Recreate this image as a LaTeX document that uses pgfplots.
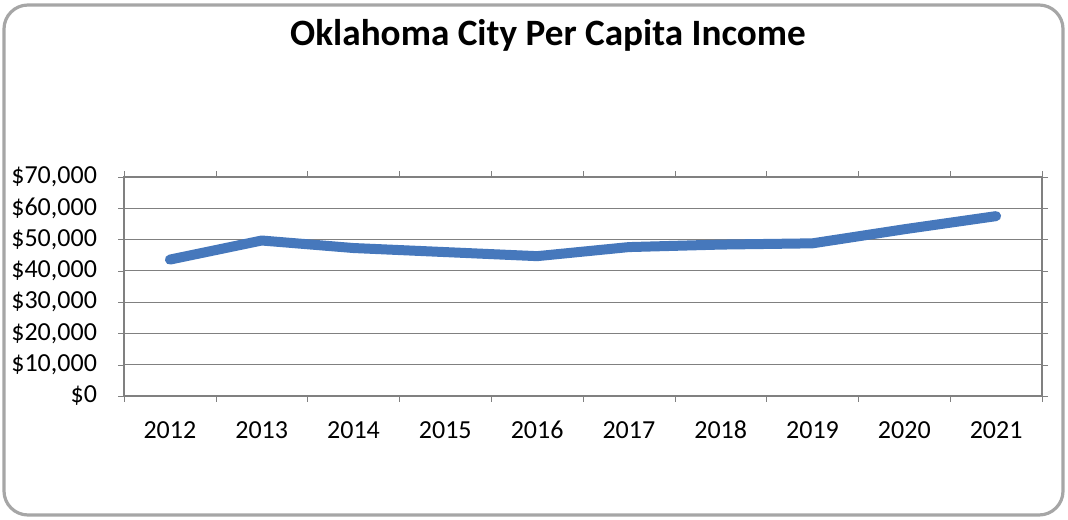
\documentclass[border=0pt]{standalone}
\usepackage{pgfplots}
\pgfplotsset{compat=1.18}
\usepackage{fontspec}
\setmainfont{Carlito}

\definecolor{lineblue}{RGB}{70,120,188}
\definecolor{gridgray}{RGB}{128,128,128}

\begin{document}
\begin{tikzpicture}[x=0.5pt,y=0.5pt]
  \useasboundingbox (0,0) rectangle (1068,519);
  % chart frame
  \draw[line width=1.6pt, color=gray!70, rounded corners=12pt] (4,4) rectangle (1063,514);
  \node[font=\fontsize{18.6}{20}\selectfont\bfseries] at (548,484) {Oklahoma City Per Capita Income};
  \begin{axis}[
    at={(62pt,61.5pt)}, anchor=south west,
    scale only axis,
    width=459pt, height=109.5pt,
    xmin=-0.5, xmax=9.5,
    ymin=0, ymax=70000,
    xtick={0,...,9},
    xticklabels={2012,2013,2014,2015,2016,2017,2018,2019,2020,2021},
    minor xtick={-0.5,0.5,...,9.5},
    ytick={0,10000,...,70000},
    yticklabels={\$0,{\$10,000},{\$20,000},{\$30,000},{\$40,000},{\$50,000},{\$60,000},{\$70,000}},
    scaled y ticks=false,
    tick align=outside,
    tick style={gridgray},
    major x tick style={draw=none},
    minor tick length=3pt,
    major tick length=3pt,
    ymajorgrids,
    grid style={gridgray, line width=0.6pt},
    axis line style={gridgray, line width=0.6pt},
    tick label style={font=\fontsize{13}{15}\selectfont},
    xticklabel style={yshift=-5.5pt, text height=9pt, text depth=1pt},
    yticklabel style={xshift=-7pt},
    clip=false,
  ]
    \addplot[lineblue, line width=5pt, line cap=round, line join=round]
      coordinates {
        (0,43600) (1,49700) (2,47300) (3,46000) (4,44700)
        (5,47600) (6,48400) (7,48800) (8,53300) (9,57500)
      };
  \end{axis}
\end{tikzpicture}
\end{document}
